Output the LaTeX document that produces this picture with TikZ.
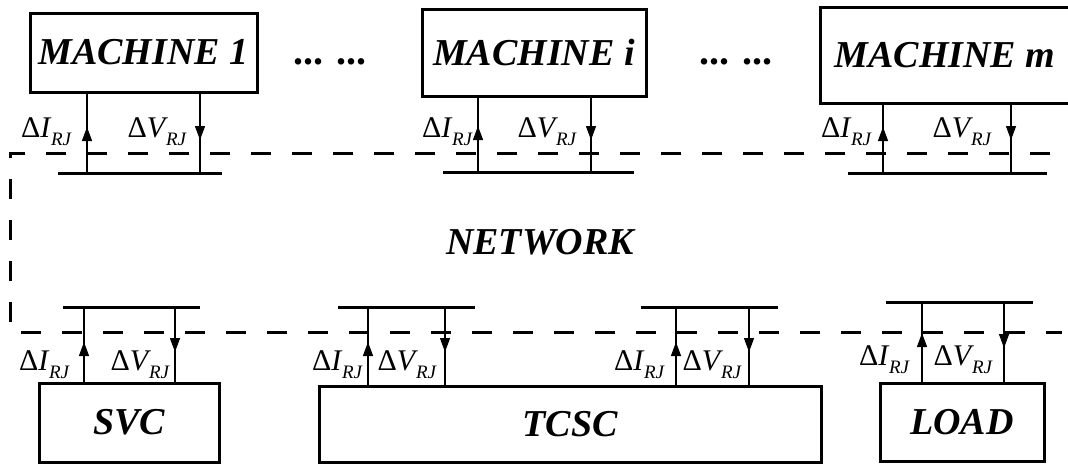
\documentclass[tikz,border=0pt]{standalone}
\usepackage{fontspec}
\setmainfont{Liberation Serif}
\usetikzlibrary{arrows.meta}
\newcommand{\dIrj}{{\fontsize{30}{30}\selectfont Δ\textit{I}\kern-0.5pt\raisebox{-8pt}{\fontsize{19}{19}\selectfont\textit{RJ}}}}
\newcommand{\dVrj}{{\fontsize{30}{30}\selectfont Δ\textit{V}\kern-2pt\raisebox{-8pt}{\fontsize{19}{19}\selectfont\textit{RJ}}}}
\tikzset{
  blk/.style={draw,line width=3pt,inner sep=0pt,font=\fontsize{38}{38}\selectfont\bfseries\itshape},
  bus/.style={line width=3pt},
  net/.style={line width=3pt,dash pattern=on 20pt off 21pt},
  conn/.style={line width=1.3pt},
  half/.style={line width=1.3pt,-{Triangle[length=14pt,width=10pt]}},
  lbl/.style={inner sep=0pt,anchor=base east}
}
\begin{document}
\begin{tikzpicture}[x=1pt,y=-1pt]
        \useasboundingbox (0,0) rectangle (1068,464);
        % machines
        \node[blk,minimum width=227pt,minimum height=79pt] (m1) at (143.5,52.5) {MACHINE 1};
        \node[blk,minimum width=224pt,minimum height=87pt] (mi) at (534,52.5) {MACHINE i};
        \node[blk,minimum width=250pt,minimum height=96pt] (mm) at (945,55) {MACHINE m};
        \node[inner sep=0pt,anchor=base,font=\fontsize{40}{40}\selectfont\bfseries] (d1) at (330,64) {... ...};
        \node[inner sep=0pt,anchor=base,font=\fontsize{40}{40}\selectfont\bfseries] (d2) at (736,64) {... ...};
        % devices
        \node[blk,minimum width=180pt,minimum height=79pt] (svc) at (129,422.5) {SVC};
        \node[blk,minimum width=502pt,minimum height=76pt] (tcsc) at (570,424) {TCSC};
        \node[blk,minimum width=164pt,minimum height=78pt] (load) at (962,422) {LOAD};
        \node[inner sep=0pt,font=\fontsize{38}{38}\selectfont\bfseries\itshape] (nw) at (540,242) {NETWORK};
        % network boundary
        \draw[net] (1050,153) -- (10,153) -- (10,332) -- (1062,332);
        % buses
        \draw[bus] (58,173) -- (222,173);
        \draw[bus] (443,172) -- (634,172);
        \draw[bus] (848,173) -- (1047,173);
        \draw[bus] (63,307) -- (200,307);
        \draw[bus] (338,307) -- (475,307);
        \draw[bus] (641,307) -- (778,307);
        \draw[bus] (886,302) -- (1033,302);
        \coordinate (b1i) at (87,173);   \coordinate (b1v) at (200,173);
        \coordinate (b2i) at (478,172);  \coordinate (b2v) at (591,172);
        \coordinate (b3i) at (883,173);  \coordinate (b3v) at (1011,173);
        \coordinate (s1i) at (84,307);   \coordinate (s1v) at (175,307);
        \coordinate (t1i) at (368,307);  \coordinate (t1v) at (445,307);
        \coordinate (t2i) at (676,307);  \coordinate (t2v) at (749,307);
        \coordinate (l1i) at (922,302);  \coordinate (l1v) at (1004,302);
        % connectors, machines side
        \draw[conn] (b1i) -- (b1i |- m1.south);  \draw[half] (b1i) -- ([yshift=46pt]b1i);
        \draw[conn] (b1v) -- (b1v |- m1.south);  \draw[half] (b1v |- m1.south) -- ([yshift=33pt]b1v);
        \draw[conn] (b2i) -- (b2i |- mi.south);  \draw[half] (b2i) -- ([yshift=46pt]b2i);
        \draw[conn] (b2v) -- (b2v |- mi.south);  \draw[half] (b2v |- mi.south) -- ([yshift=32pt]b2v);
        \draw[conn] (b3i) -- (b3i |- mm.south);  \draw[half] (b3i) -- ([yshift=46pt]b3i);
        \draw[conn] (b3v) -- (b3v |- mm.south);  \draw[half] (b3v |- mm.south) -- ([yshift=33pt]b3v);
        % connectors, devices side
        \draw[conn] (s1i) -- (s1i |- svc.north);   \draw[half] (s1i |- svc.north) -- ([yshift=-35pt]s1i);
        \draw[conn] (s1v) -- (s1v |- svc.north);   \draw[half] (s1v) -- ([yshift=-45pt]s1v);
        \draw[conn] (t1i) -- (t1i |- tcsc.north);  \draw[half] (t1i |- tcsc.north) -- ([yshift=-35pt]t1i);
        \draw[conn] (t1v) -- (t1v |- tcsc.north);  \draw[half] (t1v) -- ([yshift=-45pt]t1v);
        \draw[conn] (t2i) -- (t2i |- tcsc.north);  \draw[half] (t2i |- tcsc.north) -- ([yshift=-35pt]t2i);
        \draw[conn] (t2v) -- (t2v |- tcsc.north);  \draw[half] (t2v) -- ([yshift=-45pt]t2v);
        \draw[conn] (l1i) -- (l1i |- load.north);  \draw[half] (l1i |- load.north) -- ([yshift=-31pt]l1i);
        \draw[conn] (l1v) -- (l1v |- load.north);  \draw[half] (l1v) -- ([yshift=-46pt]l1v);
        % labels
        \node[lbl] (lb1i) at (72,137) {\dIrj};
        \node[lbl] (lb1v) at (187,137) {\dVrj};
        \node[lbl] (lb2i) at (473,137) {\dIrj};
        \node[lbl] (lb2v) at (577,137) {\dVrj};
        \node[lbl] (lb3i) at (872,137) {\dIrj};
        \node[lbl] (lb3v) at (992,137) {\dVrj};
        \node[lbl] (ls1i) at (70,370) {\dIrj};
        \node[lbl] (ls1v) at (170,370) {\dVrj};
        \node[lbl] (lt1i) at (363,370) {\dIrj};
        \node[lbl] (lt1v) at (437,370) {\dVrj};
        \node[lbl] (lt2i) at (665,370) {\dIrj};
        \node[lbl] (lt2v) at (742,370) {\dVrj};
        \node[lbl] (ll1i) at (910,365) {\dIrj};
        \node[lbl] (ll1v) at (993,365) {\dVrj};
      \end{tikzpicture}
\end{document}
